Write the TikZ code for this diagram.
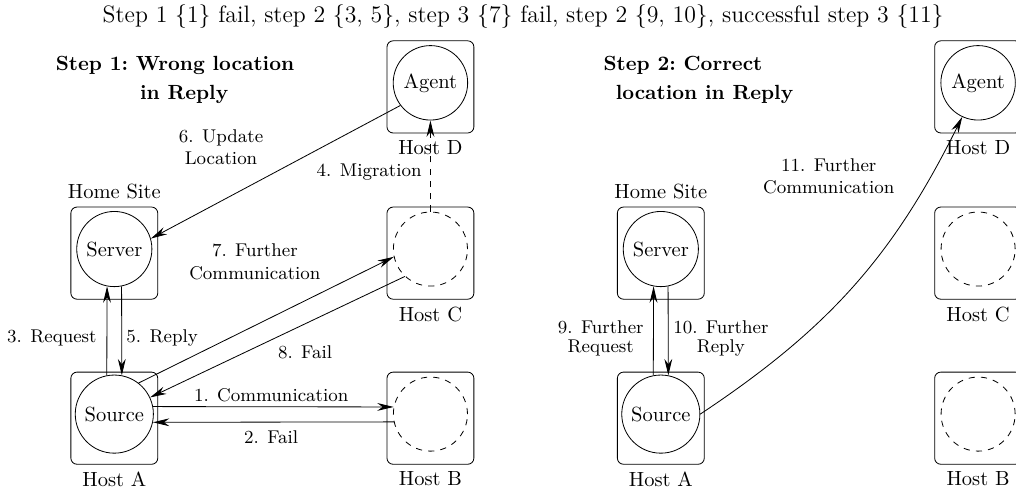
\documentclass[tikz,border=0pt]{standalone}
\usepackage{amsmath}
\usetikzlibrary{arrows.meta}

\begin{document}
\begin{tikzpicture}[>={Stealth[length=8pt,width=3.8pt]},
  host/.style={draw, rounded corners=3pt, minimum width=1.49cm, minimum height=1.58cm},
  proc/.style={draw, circle, minimum size=1.27cm},
  ghost/.style={draw, dashed, circle, minimum size=1.27cm},
  lbl/.style={font=\small, align=center}]
  \useasboundingbox (0,0) rectangle (17.42,-8.49);

  \node[font=\fontsize{11.6pt}{14pt}\selectfont] (title) at (8.97,-0.29) {Step 1 \{1\} fail, step 2 \{3, 5\}, step 3 \{7\} fail, step 2 \{9, 10\}, successful step 3 \{11\}};

  % step 1
  \node[font=\bfseries, align=center] (stepone) at (3.00,-1.37) {Step 1:\ Wrong location\\[2pt]\hspace*{9pt}in Reply};

  \node[host, label=below:Host A] (hosta) at (1.96,-7.17) {};
  \node[host, label=below:Host B] (hostb) at (7.38,-7.17) {};
  \node[host, label=below:Host C] (hostc) at (7.38,-4.34) {};
  \node[host, label=below:Host D] (hostd) at (7.38,-1.49) {};
  \node[host, label=above:Home Site] (home) at (1.96,-4.34) {};

  \node[proc] (source) at (1.96,-7.10) {Source};
  \node[proc] (server) at (1.96,-4.27) {Server};
  \node[proc] (agent) at (7.38,-1.42) {Agent};
  \node[ghost] (cb) at (7.38,-7.10) {};
  \node[ghost] (cc) at (7.38,-4.27) {};

  \draw[->] (source.11) -- (cb.169);
  \draw[->] (cb.192) -- (source.348);
  \draw[->] (source.101) -- (server.259);
  \draw[->, dashed] (cc.north) -- (agent.south);
  \draw[->] (server.281) -- (source.79);
  \draw[->] (agent.217) -- (server.16);
  \draw[->] (source.52) -- (cc.192);
  \draw[->] (cc.227) -- (source.25);

  \node[lbl] (l1) at (4.65,-6.77) {1. Communication};
  \node[lbl] (l2) at (4.65,-7.49) {2. Fail};
  \node[lbl] (l3) at (0.89,-5.80) {3. Request};
  \node[lbl] (l4) at (6.33,-2.95) {4. Migration};
  \node[lbl] (l5) at (2.78,-5.80) {5. Reply};
  \node[lbl] (l6) at (3.79,-2.52) {6. Update\\Location};
  \node[lbl] (l7) at (4.37,-4.49) {7. Further\\Communication};
  \node[lbl] (l8) at (5.23,-6.04) {8. Fail};

  % step 2
  \node[font=\bfseries, align=center] (steptwo) at (11.71,-1.37) {Step 2:\ Correct\\[2pt]\hspace*{21pt}location in Reply};

  \node[host, label=below:Host A] (hosta2) at (11.33,-7.17) {};
  \node[host, label=below:Host B] (hostb2) at (16.77,-7.17) {};
  \node[host, label=below:Host C] (hostc2) at (16.77,-4.34) {};
  \node[host, label=below:Host D] (hostd2) at (16.77,-1.49) {};
  \node[host, label=above:Home Site] (home2) at (11.33,-4.34) {};

  \node[proc] (source2) at (11.33,-7.10) {Source};
  \node[proc] (server2) at (11.33,-4.27) {Server};
  \node[proc] (agent2) at (16.77,-1.42) {Agent};
  \node[ghost] (cb2) at (16.77,-7.10) {};
  \node[ghost] (cc2) at (16.77,-4.27) {};

  \draw[->] (source2.101) -- (server2.259);
  \draw[->] (server2.281) -- (source2.79);
  \draw[->] (source2.east) to[bend right=15] (agent2);

  \node[lbl] (l9) at (10.30,-5.80) {9. Further\\[-2pt]Request};
  \node[lbl] (l10) at (12.36,-5.80) {10. Further\\[-2pt]Reply};
  \node[lbl] (l11) at (14.21,-3.02) {11. Further\\Communication};
\end{tikzpicture}
\end{document}
